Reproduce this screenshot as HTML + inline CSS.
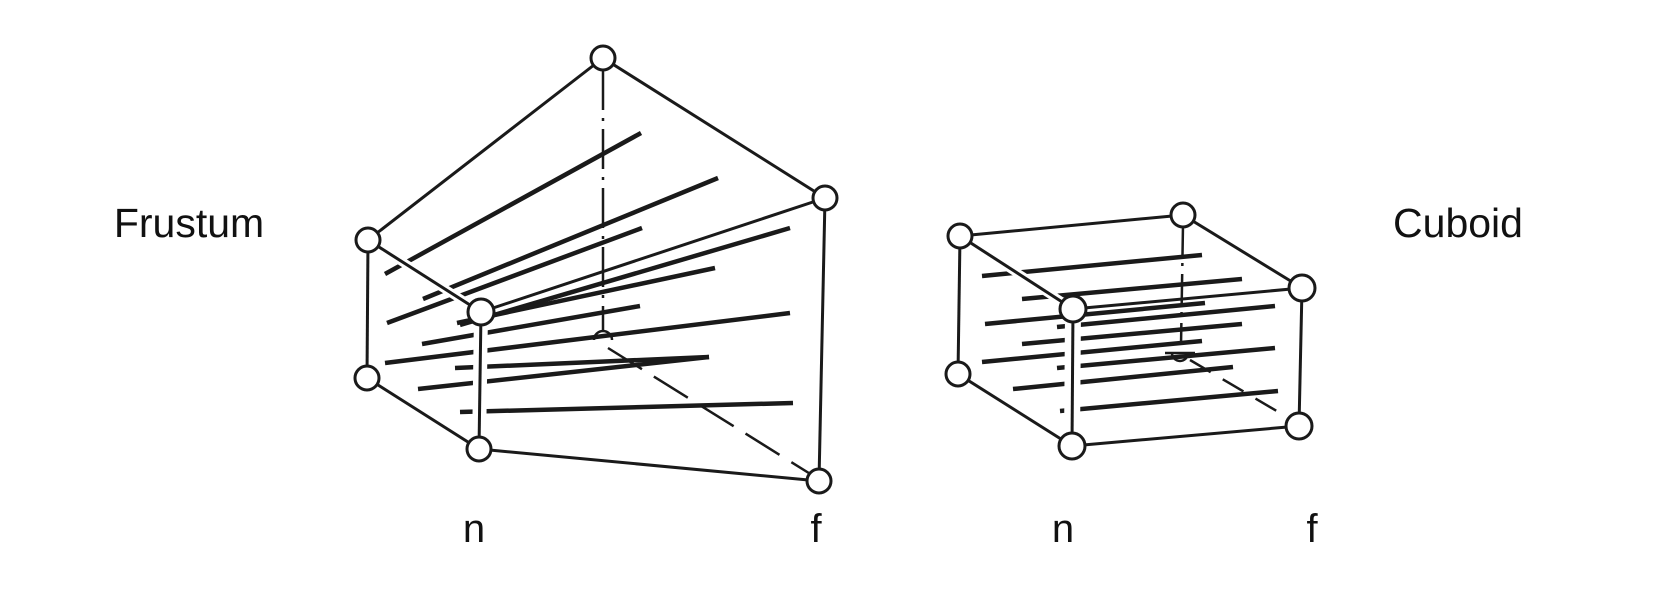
<!DOCTYPE html>
<html><head><meta charset="utf-8"><style>
html,body{margin:0;padding:0;background:#fff;}
svg{display:block;}
text{font-family:"Liberation Sans",Arial,sans-serif;fill:#111;}
</style></head><body>
<svg width="1662" height="601" viewBox="0 0 1662 601" xmlns="http://www.w3.org/2000/svg">
<rect width="1662" height="601" fill="#fff"/>
<text x="189" y="237" font-size="41" text-anchor="middle">Frustum</text>
<text x="1458" y="237" font-size="41" text-anchor="middle">Cuboid</text>
<text x="474" y="542" font-size="40" text-anchor="middle">n</text>
<text x="816" y="542" font-size="40" text-anchor="middle">f</text>
<text x="1063" y="542" font-size="40" text-anchor="middle">n</text>
<text x="1312" y="542" font-size="40" text-anchor="middle">f</text>

<!-- FRUSTUM -->
<g stroke="#1a1a1a" fill="none" stroke-linecap="butt">
  <line x1="603" y1="70" x2="603" y2="330" stroke-width="2.5" stroke-dasharray="40,8,3,8"/>
  <path d="M594,340 A9,9 0 0 1 612,340" stroke-width="2.5"/>
  <line x1="608" y1="348" x2="812" y2="475" stroke-width="2.5" stroke-dasharray="40,14"/>
  <g stroke-width="4.5">
    <line x1="385" y1="274" x2="641" y2="133"/>
    <line x1="423" y1="299" x2="718" y2="178"/>
    <line x1="387" y1="323" x2="642" y2="228"/>
    <line x1="460" y1="325" x2="790" y2="228"/>
    <line x1="457" y1="323" x2="715" y2="268"/>
    <line x1="422" y1="344" x2="640" y2="306"/>
    <line x1="385" y1="363" x2="790" y2="313"/>
    <line x1="455" y1="368" x2="709" y2="357"/>
    <line x1="418" y1="389" x2="709" y2="357"/>
    <line x1="460" y1="412" x2="793" y2="403"/>
  </g>
  <line x1="481" y1="312" x2="479" y2="449" stroke="#fff" stroke-width="14"/>
  <line x1="368" y1="240" x2="481" y2="312" stroke="#fff" stroke-width="9"/>
  <g stroke-width="3">
    <line x1="603" y1="58" x2="368" y2="240"/>
    <line x1="603" y1="58" x2="825" y2="198"/>
    <line x1="368" y1="240" x2="367" y2="378"/>
    <line x1="368" y1="240" x2="481" y2="312"/>
    <line x1="367" y1="378" x2="479" y2="449"/>
    <line x1="479" y1="449" x2="819" y2="481"/>
    <line x1="825" y1="198" x2="819" y2="481"/>
    <line x1="481" y1="312" x2="825" y2="198"/>
    <line x1="481" y1="312" x2="479" y2="449"/>
  </g>
  <g fill="#fff" stroke-width="3">
    <circle cx="603" cy="58" r="12"/>
    <circle cx="368" cy="240" r="12"/>
    <circle cx="481" cy="312" r="13"/>
    <circle cx="825" cy="198" r="12"/>
    <circle cx="367" cy="378" r="12"/>
    <circle cx="479" cy="449" r="12"/>
    <circle cx="819" cy="481" r="12"/>
  </g>
</g>

<!-- CUBOID -->
<g stroke="#1a1a1a" fill="none">
  <line x1="1183" y1="225" x2="1181" y2="345" stroke-width="2.5" stroke-dasharray="30,8,3,8"/>
  <path d="M1172,353 A8,8 0 0 0 1188,353" stroke-width="2.5"/>
  <line x1="1165" y1="353" x2="1195" y2="353" stroke-width="2.5"/>
  <line x1="1190" y1="360" x2="1292" y2="420" stroke-width="2.5" stroke-dasharray="24,14"/>
  <g stroke-width="4.5">
    <line x1="982" y1="276" x2="1202" y2="255"/>
    <line x1="1022" y1="299" x2="1242" y2="279"/>
    <line x1="985" y1="324" x2="1205" y2="303"/>
    <line x1="1057" y1="327" x2="1275" y2="306"/>
    <line x1="1022" y1="344" x2="1242" y2="324"/>
    <line x1="982" y1="362" x2="1202" y2="341"/>
    <line x1="1057" y1="368" x2="1275" y2="348"/>
    <line x1="1013" y1="389" x2="1233" y2="367"/>
    <line x1="1060" y1="411" x2="1278" y2="391"/>
  </g>
  <line x1="1073" y1="309" x2="1072" y2="446" stroke="#fff" stroke-width="16"/>
  <line x1="960" y1="236" x2="1073" y2="309" stroke="#fff" stroke-width="9"/>
  <g stroke-width="3">
    <line x1="960" y1="236" x2="1183" y2="215"/>
    <line x1="1183" y1="215" x2="1302" y2="288"/>
    <line x1="960" y1="236" x2="958" y2="374"/>
    <line x1="960" y1="236" x2="1073" y2="309"/>
    <line x1="958" y1="374" x2="1072" y2="446"/>
    <line x1="1072" y1="446" x2="1299" y2="426"/>
    <line x1="1302" y1="288" x2="1299" y2="426"/>
    <line x1="1073" y1="309" x2="1302" y2="288"/>
    <line x1="1073" y1="309" x2="1072" y2="446"/>
  </g>
  <g fill="#fff" stroke-width="3">
    <circle cx="960" cy="236" r="12"/>
    <circle cx="1183" cy="215" r="12"/>
    <circle cx="1073" cy="309" r="13"/>
    <circle cx="1302" cy="288" r="13"/>
    <circle cx="958" cy="374" r="12"/>
    <circle cx="1072" cy="446" r="13"/>
    <circle cx="1299" cy="426" r="13"/>
  </g>
</g>
</svg>
</body></html>
